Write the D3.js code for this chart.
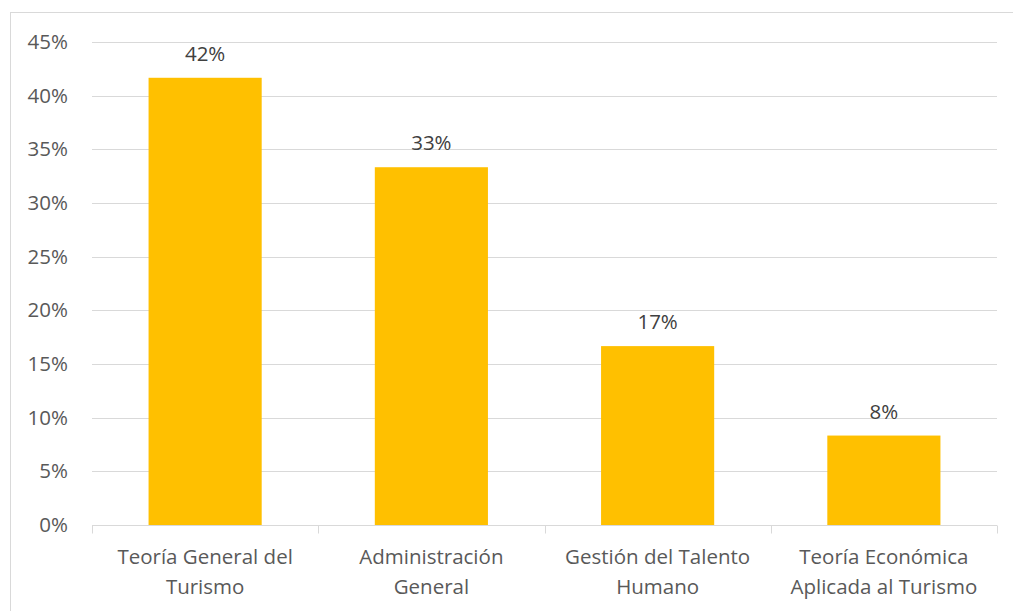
<!DOCTYPE html>
<html>
<head>
<meta charset="utf-8">
<script src="https://cdn.jsdelivr.net/npm/d3@7"></script>
<style>
  html, body { margin: 0; padding: 0; background: #fff; }
  svg { display: block; font-family: "Open Sans", "Liberation Sans", sans-serif; }
</style>
</head>
<body>
<svg id="chart" width="1013" height="611"></svg>
<script>
// Subjects and their share of responses
const categories = [
  ["Teoría General del", "Turismo"],
  ["Administración", "General"],
  ["Gestión del Talento", "Humano"],
  ["Teoría Económica", "Aplicada al Turismo"]
];
const values = [5 / 12, 4 / 12, 2 / 12, 1 / 12];
const yTicks = [0, 0.05, 0.10, 0.15, 0.20, 0.25, 0.30, 0.35, 0.40, 0.45];

const svg = d3.select("#chart");
const margin = { left: 92, right: 16, top: 42, bottom: 86 };
const W = 1013, H = 611;
const fontSize = "20.5px";

// Outer chart frame
svg.append("rect")
  .attr("x", 10.5).attr("y", 12.5)
  .attr("width", W + 20).attr("height", H + 20)
  .attr("fill", "#fff").attr("stroke", "#d9d9d9").attr("stroke-width", 1);

const x = d3.scaleBand()
  .domain(d3.range(categories.length))
  .range([margin.left, W - margin.right])
  .paddingInner(0.5).paddingOuter(0.25);

const y = d3.scaleLinear()
  .domain([0, 0.45])
  .range([H - margin.bottom, margin.top]);

const fmt = d3.format(".0%");
const textColor = "#595959";

// Horizontal gridlines
svg.append("g")
  .selectAll("line")
  .data(yTicks.filter(d => d > 0))
  .join("line")
  .attr("x1", margin.left).attr("x2", W - margin.right)
  .attr("y1", d => Math.round(y(d)) + 0.5).attr("y2", d => Math.round(y(d)) + 0.5)
  .attr("stroke", "#d9d9d9").attr("stroke-width", 1);

// Y axis labels
const yAxis = svg.append("g")
  .attr("transform", `translate(${margin.left},0)`)
  .call(d3.axisLeft(y).tickValues(yTicks).tickFormat(fmt).tickSize(0).tickPadding(24));
yAxis.select(".domain").remove();
yAxis.selectAll("text")
  .attr("fill", textColor)
  .style("font-size", fontSize)
  .style("font-family", "\"Open Sans\", \"Liberation Sans\", sans-serif");

// Bars
svg.append("g")
  .selectAll("rect")
  .data(values)
  .join("rect")
  .attr("x", (d, i) => x(i))
  .attr("width", x.bandwidth())
  .attr("y", d => y(d))
  .attr("height", d => y(0) - y(d))
  .attr("fill", "#ffc000");

// Value labels above bars
svg.append("g")
  .selectAll("text")
  .data(values)
  .join("text")
  .attr("x", (d, i) => x(i) + x.bandwidth() / 2)
  .attr("y", d => y(d) - 17)
  .attr("text-anchor", "middle")
  .attr("fill", "#404040")
  .style("font-size", fontSize)
  .text(d => fmt(d));

// Category axis: baseline and tick marks at band edges
const baseY = Math.round(y(0)) + 0.5;
const step = x.step();
const edges = d3.range(categories.length + 1).map(i => margin.left + i * step);
const axisG = svg.append("g");
axisG.append("line")
  .attr("x1", margin.left).attr("x2", W - margin.right)
  .attr("y1", baseY).attr("y2", baseY)
  .attr("stroke", "#d9d9d9");
axisG.selectAll("line.tick")
  .data(edges)
  .join("line")
  .attr("class", "tick")
  .attr("x1", d => Math.round(d) + 0.5).attr("x2", d => Math.round(d) + 0.5)
  .attr("y1", baseY).attr("y2", baseY + 8)
  .attr("stroke", "#d9d9d9");

// Category labels (two lines each)
const catLabels = svg.append("g")
  .selectAll("text")
  .data(categories)
  .join("text")
  .attr("x", (d, i) => x(i) + x.bandwidth() / 2)
  .attr("y", baseY + 38)
  .attr("text-anchor", "middle")
  .attr("fill", textColor)
  .style("font-size", fontSize);
catLabels.selectAll("tspan")
  .data(d => d)
  .join("tspan")
  .attr("x", function () { return this.parentNode.getAttribute("x"); })
  .attr("dy", (d, i) => i === 0 ? 0 : 30)
  .text(d => d);
</script>
</body>
</html>
